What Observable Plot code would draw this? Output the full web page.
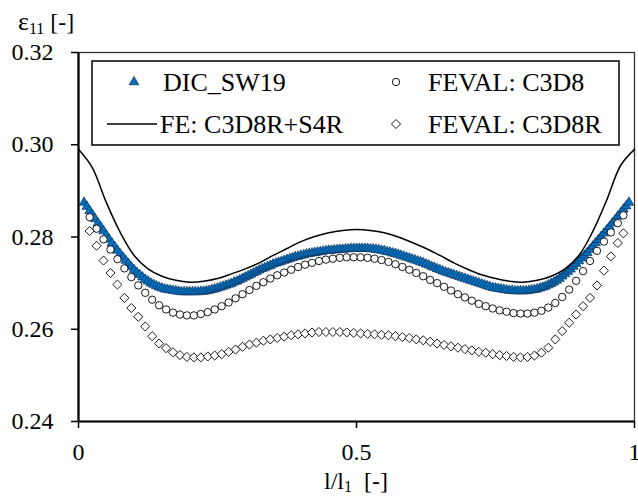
<!DOCTYPE html>
<html><head><meta charset="utf-8">
<script src="https://cdn.jsdelivr.net/npm/d3@7"></script>
<script src="https://cdn.jsdelivr.net/npm/@observablehq/plot@0.6"></script>
<style>
body{margin:0;background:#fff;}
#chart{width:638px;height:496px;overflow:hidden;}
</style></head>
<body><div id="chart"></div>
<script>
// ---- data ----
const seriesNames = ["DIC_SW19", "FE: C3D8R+S4R", "FEVAL: C3D8", "FEVAL: C3D8R"];
const xTicks = [0, 0.5, 1];
const yTicks = [0.24, 0.26, 0.28, 0.30, 0.32];

const dicX = [
.01,.015,.02,.025,.03,.035,.04,.045,.05,.055,
.06,.065,.07,.075,.08,.085,.09,.095,.1,.105,
.11,.115,.12,.125,.13,.135,.14,.145,.15,.155,
.16,.165,.17,.175,.18,.185,.19,.195,.2,.205,
.21,.215,.22,.225,.23,.235,.24,.245,.25,.255,
.26,.265,.27,.275,.28,.285,.29,.295,.3,.305,
.31,.315,.32,.325,.33,.335,.34,.345,.35,.355,
.36,.365,.37,.375,.38,.385,.39,.395,.4,.405,
.41,.415,.42,.425,.43,.435,.44,.445,.45,.455,
.46,.465,.47,.475,.48,.485,.49,.495,.5,.505,
.51,.515,.52,.525,.53,.535,.54,.545,.55,.555,
.56,.565,.57,.575,.58,.585,.59,.595,.6,.605,
.61,.615,.62,.625,.63,.635,.64,.645,.65,.655,
.66,.665,.67,.675,.68,.685,.69,.695,.7,.705,
.71,.715,.72,.725,.73,.735,.74,.745,.75,.755,
.76,.765,.77,.775,.78,.785,.79,.795,.8,.805,
.81,.815,.82,.825,.83,.835,.84,.845,.85,.855,
.86,.865,.87,.875,.88,.885,.89,.895,.9,.905,
.91,.915,.92,.925,.93,.935,.94,.945,.95,.955,
.96,.965,.97,.975,.98,.985,.99];
const dicY = [
.2875,.2866,.2857,.2848,.2839,.2830,.2822,.2813,.2804,.2795,
.2787,.2779,.2771,.2763,.2756,.2749,.2742,.2735,.2729,.2723,
.2718,.2713,.2708,.2704,.2700,.2697,.2694,.2691,.2689,.2687,
.2686,.2685,.2684,.2683,.2682,.2681,.2681,.2681,.2681,.2681,
.2681,.2681,.2682,.2682,.2683,.2684,.2686,.2687,.2689,.2691,
.2693,.2695,.2697,.2699,.2702,.2704,.2707,.2710,.2713,.2716,
.2719,.2722,.2725,.2728,.2731,.2733,.2736,.2738,.2741,.2743,
.2745,.2747,.2749,.2751,.2753,.2755,.2757,.2758,.2760,.2761,
.2763,.2764,.2765,.2766,.2767,.2768,.2769,.2770,.2771,.2771,
.2772,.2772,.2773,.2773,.2774,.2774,.2775,.2775,.2775,.2775,
.2775,.2775,.2775,.2774,.2774,.2773,.2772,.2771,.2770,.2768,
.2767,.2765,.2764,.2762,.2760,.2758,.2756,.2754,.2752,.2750,
.2748,.2746,.2744,.2741,.2739,.2736,.2734,.2731,.2729,.2726,
.2724,.2722,.2720,.2718,.2716,.2714,.2712,.2710,.2708,.2706,
.2704,.2702,.2700,.2698,.2696,.2694,.2692,.2690,.2689,.2688,
.2687,.2686,.2685,.2684,.2684,.2683,.2683,.2683,.2683,.2683,
.2684,.2685,.2686,.2687,.2689,.2691,.2693,.2696,.2699,.2702,
.2706,.2710,.2715,.2720,.2725,.2730,.2736,.2742,.2748,.2754,
.2760,.2766,.2773,.2780,.2787,.2794,.2801,.2808,.2815,.2822,
.2830,.2837,.2845,.2852,.2860,.2867,.2875];

const feX = [
0,.025,.05,.075,.1,.125,.15,.175,.2,.225,
.25,.275,.3,.325,.35,.375,.4,.425,.45,.475,
.5,.525,.55,.575,.6,.625,.65,.675,.7,.725,
.75,.775,.8,.825,.85,.875,.9,.925,.95,.975,
1];
const feY = [
.2990,.2950,.2875,.2810,.2760,.2731,.2715,.2706,.2702,.2704,
.2710,.2720,.2731,.2744,.2760,.2775,.2790,.2801,.2809,.2814,
.2816,.2814,.2809,.2800,.2788,.2775,.2760,.2744,.2730,.2718,
.2710,.2704,.2702,.2706,.2715,.2731,.2760,.2812,.2880,.2955,
.2990];

const evalX = [
.02,.0325,.045,.0575,.07,.0825,.095,.1075,.12,.1325,
.145,.1575,.17,.1825,.195,.2075,.22,.2325,.245,.2575,
.27,.2825,.295,.3075,.32,.3325,.345,.3575,.37,.3825,
.395,.4075,.42,.4325,.445,.4575,.47,.4825,.495,.5075,
.52,.5325,.545,.5575,.57,.5825,.595,.6075,.62,.6325,
.645,.6575,.67,.6825,.695,.7075,.72,.7325,.745,.7575,
.77,.7825,.795,.8075,.82,.8325,.845,.8575,.87,.8825,
.895,.9075,.92,.9325,.945,.9575,.97,.98];
const c3d8Y = [
.2843,.2818,.2795,.2773,.2752,.2732,.2713,.2695,.2679,.2664,
.2652,.2643,.2636,.2632,.2630,.2630,.2633,.2637,.2643,.2650,
.2658,.2667,.2676,.2685,.2694,.2702,.2710,.2717,.2723,.2729,
.2735,.2740,.2744,.2748,.2751,.2753,.2755,.2756,.2756,.2756,
.2755,.2753,.2750,.2746,.2741,.2735,.2729,.2722,.2715,.2707,
.2700,.2692,.2684,.2676,.2669,.2662,.2655,.2650,.2645,.2641,
.2638,.2635,.2634,.2634,.2636,.2640,.2647,.2657,.2670,.2686,
.2705,.2726,.2748,.2770,.2790,.2810,.2830,.2847];
const c3d8rY = [
.2813,.2781,.2749,.2722,.2697,.2668,.2646,.2627,.2606,.2585,
.2569,.2559,.2550,.2544,.2540,.2539,.2539,.2541,.2543,.2546,
.2551,.2556,.2562,.2567,.2571,.2575,.2578,.2581,.2584,.2587,
.2589,.2591,.2593,.2594,.2594,.2594,.2594,.2593,.2592,.2591,
.2590,.2589,.2588,.2587,.2585,.2583,.2581,.2578,.2576,.2573,
.2569,.2566,.2563,.2560,.2557,.2554,.2551,.2549,.2546,.2544,
.2542,.2540,.2539,.2540,.2543,.2549,.2560,.2578,.2596,.2614,
.2632,.2650,.2668,.2695,.2727,.2758,.2787,.2808];

// ---- tables ----
const zip = (xs, ys) => xs.map((x, i) => ({x, y: ys[i]}));
const dic = zip(dicX, dicY);
const fe = zip(feX, feY);
const c3d8 = zip(evalX, c3d8Y);
const c3d8r = zip(evalX, c3d8rY);

const FONT = '"Liberation Serif", "Times New Roman", serif';
const BLUE = "#0070c0", BLUE_EDGE = "#12325a";

const plot = Plot.plot({
  width: 638, height: 496,
  marginLeft: 78, marginRight: 4, marginTop: 52, marginBottom: 75,
  style: {fontFamily: FONT, fontSize: "24px", background: "#fff", color: "#000"},
  x: {domain: [0, 1]},
  y: {domain: [0.24, 0.32]},
  marks: [
    Plot.frame({stroke: "#333", strokeWidth: 1.3}),
    Plot.dot(dic, {x: "x", y: "y", symbol: "triangle", r: 3.6, fill: BLUE, stroke: BLUE_EDGE, strokeWidth: 0.7}),
    Plot.line(fe, {x: "x", y: "y", curve: "catmull-rom", stroke: "#000", strokeWidth: 1.5}),
    Plot.dot(c3d8, {x: "x", y: "y", symbol: "circle", r: 3.7, fill: "#fff", stroke: "#000", strokeWidth: 0.9}),
    Plot.dot(c3d8r, {x: "x", y: "y", symbol: "diamond2", r: 4.1, fill: "#fff", stroke: "#000", strokeWidth: 0.9}),
    Plot.ruleX([0], {stroke: "#000", strokeWidth: 2.2}),
    Plot.ruleY([0.24], {stroke: "#000", strokeWidth: 2.2}),
    Plot.axisY({ticks: yTicks, tickSize: 7, tickPadding: 18, tickFormat: d => d.toFixed(2), label: null, strokeWidth: 1.5, fontSize: 24}),
    Plot.axisX({ticks: xTicks, tickSize: 7, tickPadding: 14, tickFormat: d => String(d), label: null, strokeWidth: 1.5, fontSize: 24})
  ]
});
document.getElementById("chart").appendChild(plot);

// ---- legend & axis titles ----
const svg = d3.select(plot);
const g = svg.append("g").attr("font-family", FONT).attr("fill", "#000").attr("text-anchor", "start");
g.append("rect").attr("x", 92).attr("y", 61).attr("width", 527).attr("height", 84)
  .attr("fill", "#fff").attr("stroke", "#000").attr("stroke-width", 1.5);
const sym = (type, r) => d3.symbol(type, Math.PI * r * r)();
g.append("path").attr("d", sym(d3.symbolTriangle, 3.6)).attr("transform", "translate(134,82)")
  .attr("fill", BLUE).attr("stroke", BLUE_EDGE).attr("stroke-width", 0.7);
g.append("line").attr("x1", 107).attr("x2", 157).attr("y1", 124).attr("y2", 124).attr("stroke", "#000").attr("stroke-width", 1.5);
g.append("path").attr("d", sym(d3.symbolCircle, 3.7)).attr("transform", "translate(396,82)")
  .attr("fill", "#fff").attr("stroke", "#000").attr("stroke-width", 0.9);
g.append("path").attr("d", sym(d3.symbolDiamond2, 4.1)).attr("transform", "translate(396,124)")
  .attr("fill", "#fff").attr("stroke", "#000").attr("stroke-width", 0.9);
const legText = [[163, 91], [160, 133], [428, 91], [428, 133]];
seriesNames.forEach((s, i) => {
  g.append("text").attr("x", legText[i][0]).attr("y", legText[i][1]).attr("font-size", 26).text(s);
});

const yt = g.append("text").attr("x", 18).attr("y", 30).attr("font-size", 24).style("white-space", "pre");
yt.append("tspan").attr("font-size", 26).text("\u03b5");
yt.append("tspan").attr("font-size", 16).attr("dy", 4).text("11");
yt.append("tspan").attr("dy", -4).text(" [-]");

const xt = g.append("text").attr("x", 356).attr("y", 489).attr("text-anchor", "middle").attr("font-size", 24).style("white-space", "pre");
xt.append("tspan").text("l/l");
xt.append("tspan").attr("font-size", 16).attr("dy", 3).text("1");
xt.append("tspan").attr("dy", -3).text("  [-]");
</script>
</body></html>
